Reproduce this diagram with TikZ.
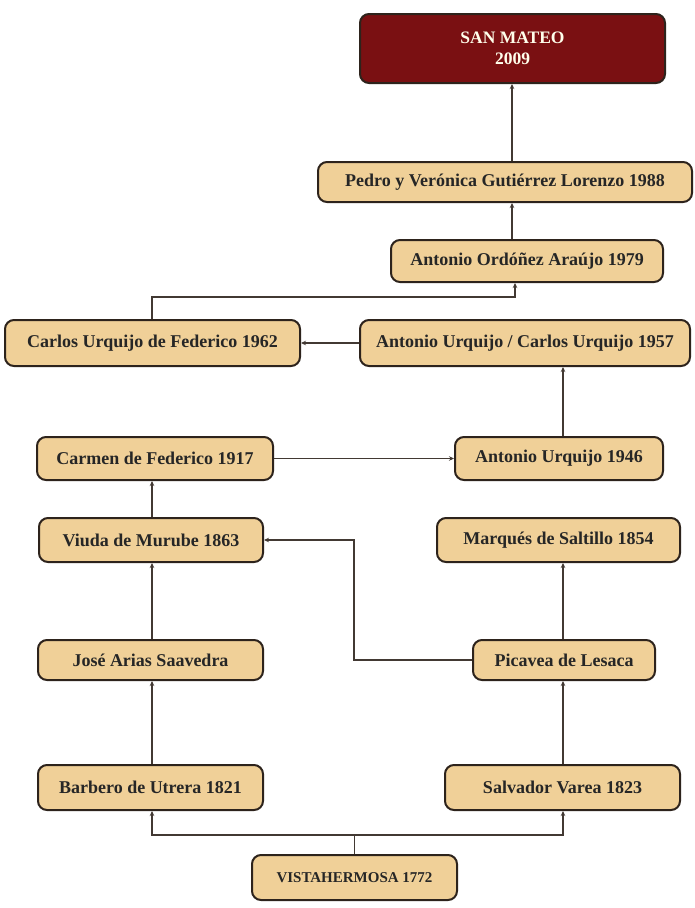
\documentclass[tikz,border=0pt]{standalone}
\usepackage{fontspec}
\setmainfont{Liberation Serif}
\usetikzlibrary{arrows.meta,calc}
\definecolor{tan}{RGB}{240,208,152}
\definecolor{wine}{RGB}{122,16,18}
\definecolor{edge}{RGB}{45,35,28}
\begin{document}
\begin{tikzpicture}[x=1pt,y=1pt,
  box/.style={draw=edge, line width=2pt, rounded corners=9pt, fill=tan,
    font=\fontsize{18}{20}\selectfont\bfseries, text=black!85, inner sep=0pt, align=center},
  topbox/.style={box, fill=wine, text=white!92!yellow, font=\fontsize{17.5}{21}\selectfont\bfseries},
  arr/.style={draw=edge!90, line width=1.2pt, -{Stealth[length=5pt,width=4.5pt]}},
  ln/.style={draw=edge!90, line width=1.2pt}]
\useasboundingbox (0,0) rectangle (695,-908);
\fill[white] (0,0) rectangle (695,-908);
\node[topbox, minimum width=305, minimum height=69] (sm) at (512.5,-48.5) {SAN MATEO\\2009};
\node[box, minimum width=374, minimum height=40] (pedro) at (505,-182) {Pedro y Verónica Gutiérrez Lorenzo 1988};
\node[box, minimum width=272, minimum height=42] (ord) at (527,-261) {Antonio Ordóñez Araújo 1979};
\node[box, minimum width=295, minimum height=46] (cuf) at (152.5,-343) {Carlos Urquijo de Federico 1962};
\node[box, minimum width=330, minimum height=46] (auc) at (525,-343) {Antonio Urquijo / Carlos Urquijo 1957};
\node[box, minimum width=236, minimum height=43] (carmen) at (155,-458.5) {Carmen de Federico 1917};
\node[box, minimum width=208, minimum height=43] (au46) at (559,-458.5) {Antonio Urquijo 1946};
\node[box, minimum width=224, minimum height=44] (viuda) at (151,-540) {Viuda de Murube 1863};
\node[box, minimum width=243, minimum height=44] (marq) at (558.5,-540) {Marqués de Saltillo 1854};
\node[box, minimum width=225, minimum height=40] (jose) at (150.5,-660) {José Arias Saavedra};
\node[box, minimum width=182, minimum height=40] (pica) at (564,-660) {Picavea de Lesaca};
\node[box, minimum width=225, minimum height=45] (barb) at (150.5,-787.5) {Barbero de Utrera 1821};
\node[box, minimum width=235, minimum height=45] (salv) at (562.5,-787.5) {Salvador Varea 1823};
\node[box, minimum width=205, minimum height=45, font=\fontsize{15}{17}\selectfont\bfseries] (vista) at (354.5,-877.5) {VISTAHERMOSA 1772};
% connectors
\coordinate (vj) at (354.5,-835);
\coordinate (bl) at (152,-835);
\coordinate (br) at (563,-835);
\draw[ln] (vista.north) -- (vj);
\draw[arr] (vj) -- (bl) -- (bl |- barb.south);
\draw[arr] (vj) -- (br) -- (br |- salv.south);
\draw[arr] (bl |- barb.north) -- (bl |- jose.south);
\draw[arr] (br |- salv.north) -- (br |- pica.south);
\draw[arr] (bl |- jose.north) -- (bl |- viuda.south);
\draw[arr] (br |- pica.north) -- (br |- marq.south);
\coordinate (pv) at (354,-660);
\draw[arr] (pica.west) -- (pv) |- (viuda.east);
\draw[arr] (bl |- viuda.north) -- (bl |- carmen.south);
\draw[arr] (carmen.east) -- (au46.west);
\draw[arr] (br |- au46.north) -- (br |- auc.south);
\draw[arr] (auc.west) -- (cuf.east);
\coordinate (cj) at (152,-297);
\coordinate (oj) at (515,-297);
\draw[arr] (cuf.north -| cj) -- (cj) -- (oj) -- (oj |- ord.south);
\coordinate (px) at (512,0);
\draw[arr] (px |- ord.north) -- (px |- pedro.south);
\draw[arr] (px |- pedro.north) -- (px |- sm.south);
\end{tikzpicture}
\end{document}
